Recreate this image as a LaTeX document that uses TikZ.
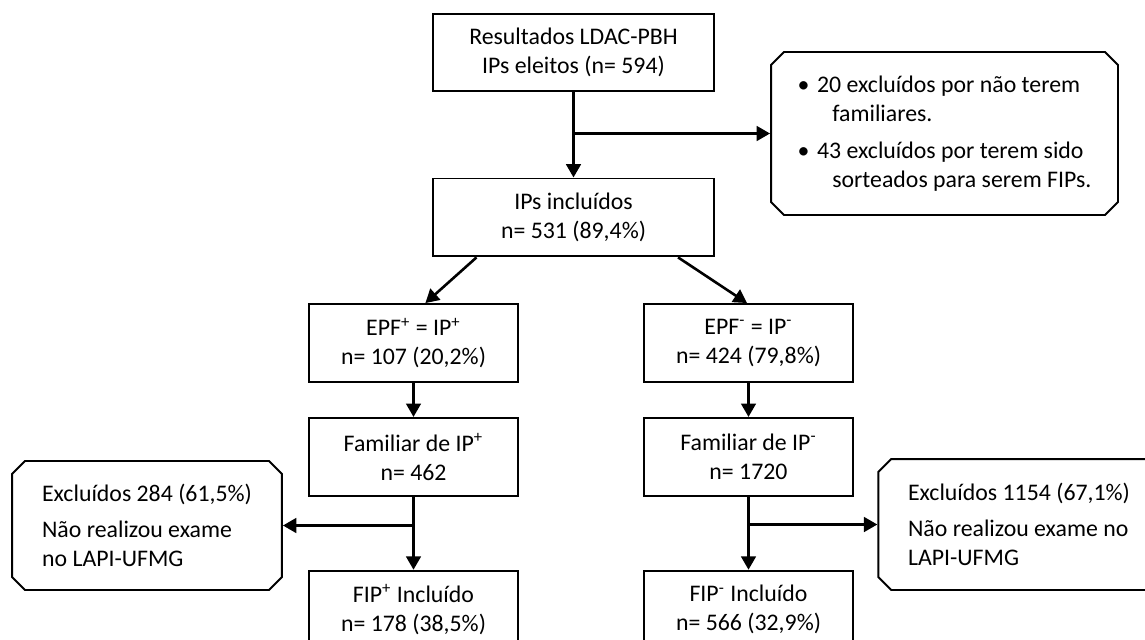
\documentclass[tikz,border=0pt]{standalone}
\usepackage{fontspec}
\setmainfont{Carlito}
\usetikzlibrary{positioning,arrows.meta,shapes.misc}

\begin{document}
\begin{tikzpicture}[x=0.462pt, y=-0.462pt,
  font=\fontsize{11pt}{13.5pt}\selectfont,
  caixa/.style={draw, line width=0.9pt, minimum width=96.6pt, minimum height=36pt, align=center, inner sep=2pt},
  larga/.style={caixa, minimum width=129.8pt},
  chanfro/.style={draw, line width=0.9pt, chamfered rectangle, chamfered rectangle xsep=3pt, chamfered rectangle ysep=3pt, minimum width=124.7pt, minimum height=59.6pt, align=left, inner sep=0pt},
  linha/.style={line width=1.2pt},
  seta/.style={linha, -{Triangle[length=6.2pt,width=6.8pt]}}]
\useasboundingbox (0,0) rectangle (1145,639);
\clip (0,0) rectangle (1145,639);
% caixas principais
\node[larga] (res) at (573.5,52.5) {Resultados LDAC-PBH\\IPs eleitos (n= 594)};
\node[larga, below=39.3pt of res] (inc) {IPs incluídos\\n= 531 (89,4\%)};
\node[chanfro, minimum width=160.3pt, minimum height=75.3pt] (side) at (944.5,133.5)
  {\textbullet\hspace{3.5pt}20 excluídos por não terem\\\hspace*{16pt}familiares.\\[3.7pt]
   \textbullet\hspace{3.5pt}43 excluídos por terem sido\\\hspace*{16pt}sorteados para serem FIPs.};
% ramo positivo
\node[caixa] (epfp) at (413.5,343) {EPF\textsuperscript{+} = IP\textsuperscript{+}\\n= 107 (20,2\%)};
\node[caixa, below=15.7pt of epfp] (famp) {Familiar de IP\textsuperscript{+}\\n= 462};
\node[caixa, below=33.7pt of famp] (fipp) {FIP\textsuperscript{+} Incluído\\n= 178 (38,5\%)};
\node[chanfro] (exclp) at (147,525.5) {Excluídos 284 (61,5\%)\\[3pt]Não realizou exame\\no LAPI-UFMG};
% ramo negativo
\node[caixa] (epfm) at (748.5,343) {EPF\textsuperscript{-} = IP\textsuperscript{-}\\n= 424 (79,8\%)};
\node[caixa, below=15.7pt of epfm] (famm) {Familiar de IP\textsuperscript{-}\\n= 1720};
\node[caixa, below=33.7pt of famm] (fipm) {FIP\textsuperscript{-} Incluído\\n= 566 (32,9\%)};
\node[chanfro, minimum height=60.5pt, minimum width=130pt] (exclm) at (1019,524.5) {Excluídos 1154 (67,1\%)\\[3pt]Não realizou exame no\\LAPI-UFMG};
% setas
\draw[seta] (res) -- (inc);
\draw[seta] (res.south |- side.west) -- (side.west);
\draw[seta] ([xshift=-44.8pt]inc.south) -- ([xshift=5.5pt]epfp.north);
\draw[seta] ([xshift=48.3pt]inc.south) -- ([xshift=-0.7pt]epfm.north);
\foreach \a/\b in {epfp/famp, famp/fipp, epfm/famm, famm/fipm} \draw[seta] (\a) -- (\b);
\draw[seta] (famp.south |- exclp.east) -- (exclp.east);
\draw[seta] (famm.south |- exclm.west) -- (exclm.west);
\end{tikzpicture}
\end{document}
